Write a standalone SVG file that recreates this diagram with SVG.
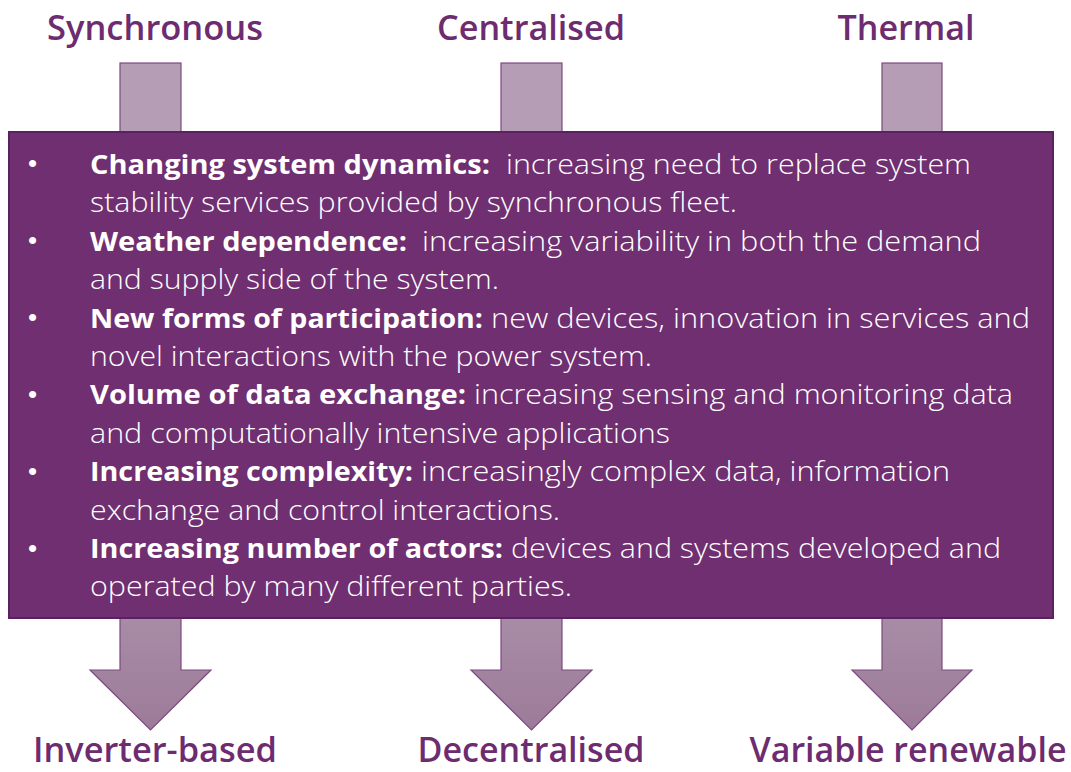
<svg xmlns="http://www.w3.org/2000/svg" width="1071" height="772" viewBox="0 0 1071 772">
<defs>
<linearGradient id="downGrad" x1="0" y1="0" x2="0" y2="1">
<stop offset="0" stop-color="#A88CA6"/>
<stop offset="1" stop-color="#9C7B99"/>
</linearGradient>
<style>
.title{font-family:"Open Sans","Noto Sans","Liberation Sans",sans-serif;font-weight:600;font-size:34px;fill:#6E2C70;text-anchor:middle}
.up{fill:#B59DB5;stroke:#7C4A7E;stroke-width:1.2}
.down{fill:url(#downGrad);stroke:#7C4A7E;stroke-width:1.2}
.box{fill:#6F2F70;stroke:#5A2160;stroke-width:2}
.body{font-family:"Open Sans","Noto Sans","Liberation Sans",sans-serif;font-size:27px;fill:#FFFFFF;font-weight:300}
.b{font-weight:700}
.bullet{font-family:"Liberation Sans",sans-serif;font-size:26px;fill:#FFFFFF}
</style>
</defs>

<g id="connectors">
<rect class="up" x="120" y="63" width="61" height="70"/>
<rect class="up" x="501" y="63" width="61" height="70"/>
<rect class="up" x="882" y="63" width="60" height="70"/>
<polygon class="down" points="120,617 181,617 181,670 211,670 150.5,730 90,670 120,670"/>
<polygon class="down" points="501,617 562,617 562,670 592,670 531.5,730 471,670 501,670"/>
<polygon class="down" points="882,617 942,617 942,670 972,670 912,730 852,670 882,670"/>
</g>

<g id="top-labels">
<text class="title" x="155" y="40" textLength="216" lengthAdjust="spacingAndGlyphs">Synchronous</text>
<text class="title" x="531" y="40" textLength="188" lengthAdjust="spacingAndGlyphs">Centralised</text>
<text class="title" x="906" y="40" textLength="137" lengthAdjust="spacingAndGlyphs">Thermal</text>
</g>

<g id="bottom-labels">
<text class="title" x="155" y="762" textLength="244" lengthAdjust="spacingAndGlyphs">Inverter-based</text>
<text class="title" x="531" y="762" textLength="227" lengthAdjust="spacingAndGlyphs">Decentralised</text>
<text class="title" x="908" y="762" textLength="317" lengthAdjust="spacingAndGlyphs">Variable renewable</text>
</g>

<g id="main-box">
<rect class="box" x="9" y="132" width="1044" height="486"/>
<g class="bullets">
<text class="bullet" x="28" y="172">•</text>
<text class="bullet" x="28" y="249">•</text>
<text class="bullet" x="28" y="326">•</text>
<text class="bullet" x="28" y="403">•</text>
<text class="bullet" x="28" y="480">•</text>
<text class="bullet" x="28" y="557">•</text>
</g>
<text class="body" y="174"><tspan class="b" x="90" textLength="400" lengthAdjust="spacingAndGlyphs">Changing system dynamics:</tspan><tspan x="506" textLength="465" lengthAdjust="spacingAndGlyphs">increasing need to replace system</tspan></text>
<text class="body" x="90" y="212.4" textLength="647" lengthAdjust="spacingAndGlyphs">stability services provided by synchronous fleet.</text>
<text class="body" y="250.8"><tspan class="b" x="90" textLength="317" lengthAdjust="spacingAndGlyphs">Weather dependence:</tspan><tspan x="422" textLength="559" lengthAdjust="spacingAndGlyphs">increasing variability in both the demand</tspan></text>
<text class="body" x="90" y="289.2" textLength="409" lengthAdjust="spacingAndGlyphs">and supply side of the system.</text>
<text class="body" y="327.6"><tspan class="b" x="90" textLength="393" lengthAdjust="spacingAndGlyphs">New forms of participation:</tspan><tspan x="491" textLength="539" lengthAdjust="spacingAndGlyphs">new devices, innovation in services and</tspan></text>
<text class="body" x="90" y="366" textLength="562" lengthAdjust="spacingAndGlyphs">novel interactions with the power system.</text>
<text class="body" y="404.4"><tspan class="b" x="90" textLength="376" lengthAdjust="spacingAndGlyphs">Volume of data exchange:</tspan><tspan x="474" textLength="539" lengthAdjust="spacingAndGlyphs">increasing sensing and monitoring data</tspan></text>
<text class="body" x="90" y="442.8" textLength="580" lengthAdjust="spacingAndGlyphs">and computationally intensive applications</text>
<text class="body" y="481.2"><tspan class="b" x="90" textLength="323" lengthAdjust="spacingAndGlyphs">Increasing complexity:</tspan><tspan x="421" textLength="529" lengthAdjust="spacingAndGlyphs">increasingly complex data, information</tspan></text>
<text class="body" x="90" y="519.6" textLength="470" lengthAdjust="spacingAndGlyphs">exchange and control interactions.</text>
<text class="body" y="558"><tspan class="b" x="90" textLength="413" lengthAdjust="spacingAndGlyphs">Increasing number of actors:</tspan><tspan x="511" textLength="490" lengthAdjust="spacingAndGlyphs">devices and systems developed and</tspan></text>
<text class="body" x="90" y="596.4" textLength="482" lengthAdjust="spacingAndGlyphs">operated by many different parties.</text>
</g>
</svg>
